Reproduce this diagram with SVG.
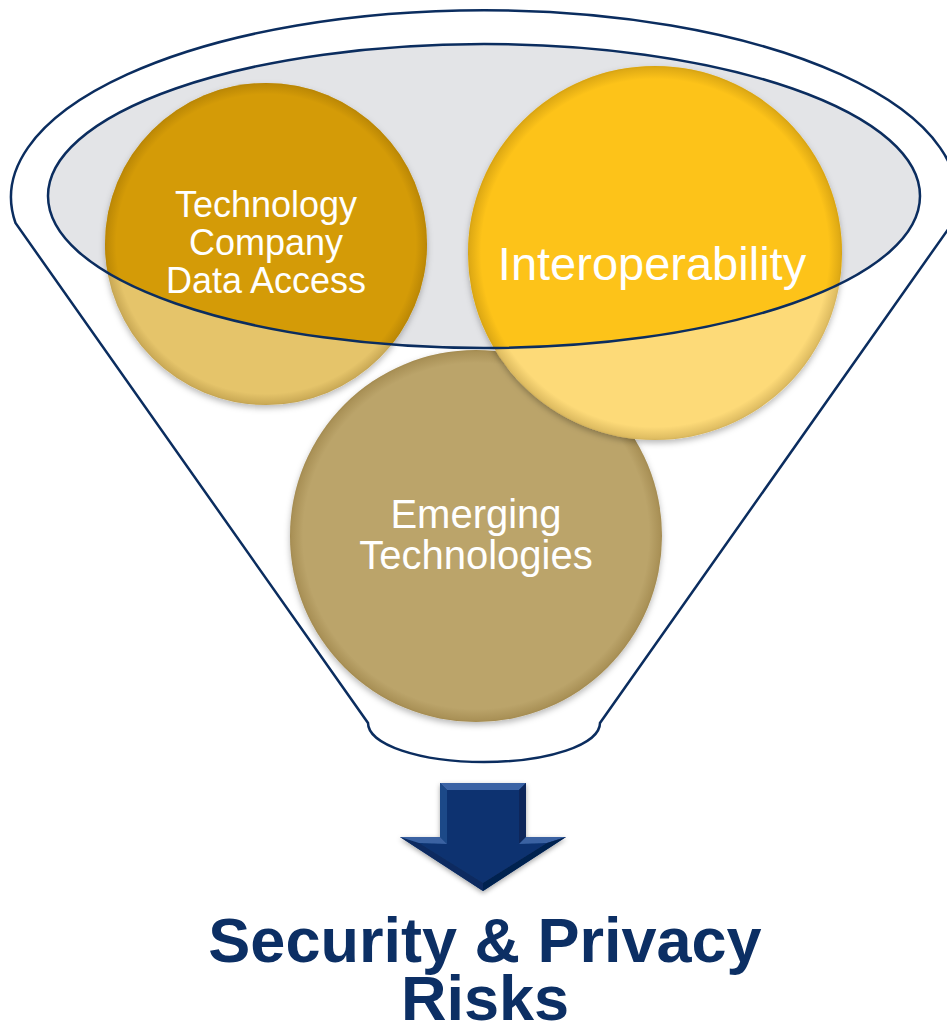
<svg xmlns="http://www.w3.org/2000/svg" width="947" height="1026" viewBox="0 0 947 1026">
  <style>
    .outline { fill: none; stroke: #0B2D5F; stroke-width: 2.5; }
    .lbl { font-family: "Liberation Sans", Arial, sans-serif; fill: #FFFFFF; text-anchor: middle; }
    .title { font-family: "Liberation Sans", Arial, sans-serif; font-weight: bold; fill: #0C2F64; text-anchor: middle; font-size: 63px; }
  </style>
  <defs>
    <clipPath id="mouth">
      <ellipse cx="484" cy="196" rx="436" ry="152"/>
    </clipPath>
    <radialGradient id="rim" cx="0.5" cy="0.5" r="0.5">
      <stop offset="0.93" stop-color="#5A3C00" stop-opacity="0"/>
      <stop offset="0.99" stop-color="#5A3C00" stop-opacity="0.18"/>
      <stop offset="1" stop-color="#5A3C00" stop-opacity="0.25"/>
    </radialGradient>
    <filter id="shadow" x="-20%" y="-20%" width="140%" height="140%">
      <feDropShadow dx="0" dy="3" stdDeviation="3" flood-color="#000000" flood-opacity="0.28"/>
    </filter>
    <filter id="ashadow" x="-20%" y="-20%" width="140%" height="140%">
      <feDropShadow dx="0" dy="2" stdDeviation="2.5" flood-color="#000000" flood-opacity="0.35"/>
    </filter>
  </defs>

  <g id="funnel">
    <path class="outline" d="M15.5,223 A473,187 0 1 1 952.5,223 L600,723 A116,39 0 0 1 368,723 Z"/>
    <ellipse cx="484" cy="196" rx="436" ry="152" fill="#E3E4E7"/>
  </g>

  <g id="node-emerging">
    <circle cx="476" cy="536" r="186" fill="#BBA46A" filter="url(#shadow)"/>
    <circle cx="476" cy="536" r="186" fill="url(#rim)"/>
    <text class="lbl" font-size="40" x="476" y="528">Emerging</text>
    <text class="lbl" font-size="40" x="476" y="569">Technologies</text>
  </g>

  <g id="node-tech">
    <circle cx="266" cy="244" r="161" fill="#E5C46B" filter="url(#shadow)"/>
    <circle cx="266" cy="244" r="161" fill="#D49B07" clip-path="url(#mouth)"/>
    <circle cx="266" cy="244" r="161" fill="url(#rim)"/>
  </g>

  <g id="node-interop">
    <circle cx="655" cy="253" r="187" fill="#FDDA78" filter="url(#shadow)"/>
    <circle cx="655" cy="253" r="187" fill="#FDC319" clip-path="url(#mouth)"/>
    <circle cx="655" cy="253" r="187" fill="url(#rim)"/>
  </g>

  <g id="mouth-line">
    <ellipse class="outline" cx="484" cy="196" rx="436" ry="152"/>
  </g>

  <g id="labels">
    <text class="lbl" font-size="36" x="266" y="217">Technology</text>
    <text class="lbl" font-size="36" x="266" y="255">Company</text>
    <text class="lbl" font-size="36" x="266" y="293">Data Access</text>
    <text class="lbl" font-size="47" x="652" y="280">Interoperability</text>
  </g>

  <g id="connectors">
    <g id="arrow" filter="url(#ashadow)">
      <polygon points="440,783 526,783 526,837 566,837 483,891 400,837 440,837" fill="#0B3370"/>
      <polygon points="440,783 526,783 519,790 447,790" fill="#3B64A5"/>
      <polygon points="440,783 447,790 447,844 440,837" fill="#1F4A88"/>
      <polygon points="526,783 526,837 519,844 519,790" fill="#08275A"/>
      <polygon points="526,837 566,837 547,843 519,844" fill="#3A62A2"/>
      <polygon points="566,837 483,891 483,883 547,843" fill="#06224F"/>
      <polygon points="483,891 400,837 419,843 483,883" fill="#0A2C60"/>
      <polygon points="400,837 440,837 447,844 419,843" fill="#3A62A2"/>
    </g>
  </g>

  <g id="result">
    <text class="title" x="485" y="962">Security &amp; Privacy</text>
    <text class="title" x="485" y="1020">Risks</text>
  </g>
</svg>
